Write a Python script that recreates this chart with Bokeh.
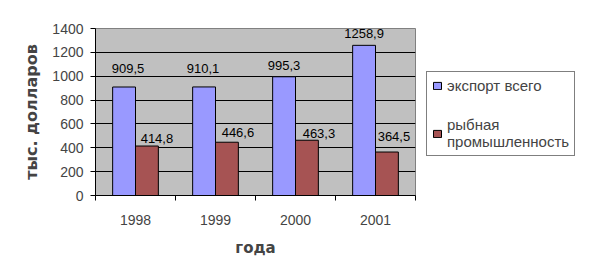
import numpy as np
from bokeh.plotting import figure
from bokeh.layouts import row
from bokeh.models import (Range1d, FixedTicker, Legend, LegendItem,
                          ColumnDataSource)
from bokeh.embed import file_html
from bokeh.resources import INLINE
from bokeh.core.properties import value

# ---- data ----
years = ["1998", "1999", "2000", "2001"]
export_total = [909.5, 910.1, 995.3, 1258.9]
fish_industry = [414.8, 446.6, 463.3, 364.5]
y_ticks = [0, 200, 400, 600, 800, 1000, 1200, 1400]
series_names = ["экспорт всего", "рыбная\nпромышленность"]
y_title = "тыс. долларов"
x_title = "года"

# ---- style ----
BLUE = "#9999FF"
RED = "#A65353"
bar_w = 1 / 3.5          # Excel gap width 150%
# label pixel nudges (style only): label centre distance above bar top
blue_dx = [4, -1, 0, 0]
blue_dy = [19, 18, 11, 12]
red_dx = [10, 11, 12, 7]
red_dy = [8, 10, 7, 16]

n = len(years)
xc = np.arange(1, n + 1, dtype=float)

W_MAIN = 416
TOP, BOTTOM = 28, 84
p = figure(width=W_MAIN, height=279, output_backend="svg", toolbar_location=None,
           x_range=Range1d(0.5, n + 0.5), y_range=Range1d(y_ticks[0], y_ticks[-1]),
           min_border_left=95, min_border_right=1, min_border_top=TOP,
           min_border_bottom=BOTTOM)
p.background_fill_color = "#C0C0C0"
p.border_fill_color = "white"
p.outline_line_color = "#808080"

src1 = ColumnDataSource(dict(x=xc - bar_w / 2, top=export_total))
src2 = ColumnDataSource(dict(x=xc + bar_w / 2, top=fish_industry))
p.vbar(x="x", top="top", width=bar_w, source=src1, fill_color=BLUE,
       line_color="black", line_width=1)
p.vbar(x="x", top="top", width=bar_w, source=src2, fill_color=RED,
       line_color="black", line_width=1)

fmt = lambda v: f"{v:.1f}".replace(".", ",")
p.text(x=xc - bar_w / 2, y=export_total, text=[fmt(v) for v in export_total],
       x_offset=blue_dx, y_offset=[-d for d in blue_dy],
       text_font=value("Liberation Sans"), text_font_size="13px",
       text_align="center", text_baseline="middle", text_color="black")
p.text(x=xc + bar_w / 2, y=fish_industry, text=[fmt(v) for v in fish_industry],
       x_offset=red_dx, y_offset=[-d for d in red_dy],
       text_font=value("Liberation Sans"), text_font_size="13px",
       text_align="center", text_baseline="middle", text_color="black")

# axes
p.xgrid.visible = False
p.ygrid.grid_line_color = "black"
p.ygrid.grid_line_width = 1

p.yaxis.ticker = FixedTicker(ticks=y_ticks)
p.yaxis.major_tick_out = 5
p.yaxis.major_tick_in = 0
p.yaxis.minor_tick_line_color = None
p.yaxis.major_label_standoff = 7
p.yaxis.major_label_text_font = "Liberation Sans"
p.yaxis.major_label_text_font_size = "14px"
p.yaxis.axis_line_color = "black"
p.yaxis.axis_label = y_title
p.yaxis.axis_label_text_font = "DejaVu Sans"
p.yaxis.axis_label_text_font_style = "bold"
p.yaxis.axis_label_text_font_size = "16px"
p.yaxis.axis_label_standoff = 8

p.xaxis.ticker = FixedTicker(ticks=list(xc),
                             minor_ticks=list(np.arange(0.5, n + 1, 1.0)))
p.xaxis.major_label_overrides = {float(x): y for x, y in zip(xc, years)}
p.xaxis.major_tick_out = 0
p.xaxis.major_tick_in = 0
p.xaxis.minor_tick_out = 5
p.xaxis.minor_tick_in = 0
p.xaxis.minor_tick_line_color = "black"
p.xaxis.major_label_standoff = 14
p.xaxis.major_label_text_font = "Liberation Sans"
p.xaxis.major_label_text_font_size = "14px"
p.xaxis.axis_label = x_title
p.xaxis.axis_label_text_font = "DejaVu Sans"
p.xaxis.axis_label_text_font_style = "bold"
p.xaxis.axis_label_text_font_size = "15px"
p.xaxis.axis_label_standoff = 11

# ---- legend panel (proxies share the data but sit outside its view) ----
q = figure(width=590 - W_MAIN, height=279, output_backend="svg",
           toolbar_location=None, x_range=Range1d(-20, -19), y_range=Range1d(0, 1),
           x_axis_location=None, y_axis_location=None, min_border=0,
           min_border_top=TOP, min_border_bottom=BOTTOM)
q.outline_line_color = None
q.background_fill_color = "white"
q.border_fill_color = "white"
q.grid.visible = False
g1 = q.vbar(x="x", top="top", width=bar_w, source=src1, fill_color=BLUE,
            line_color="black")
g2 = q.vbar(x="x", top="top", width=bar_w, source=src2, fill_color=RED,
            line_color="black")

legend = Legend(items=[LegendItem(label=series_names[0], renderers=[g1]),
                       LegendItem(label=series_names[1], renderers=[g2])],
                location=(10, 39))
legend.glyph_width = 10
legend.glyph_height = 9
legend.label_text_font = "Liberation Sans"
legend.label_text_font_size = "15px"
legend.label_standoff = 5
legend.label_height = 17
legend.spacing = 22
legend.padding = 5
legend.margin = 0
legend.border_line_color = "black"
legend.border_line_width = 1
legend.background_fill_color = "white"
legend.background_fill_alpha = 1
q.add_layout(legend)

layout = row(p, q)
open("out.html", "w").write(file_html(layout, INLINE))
